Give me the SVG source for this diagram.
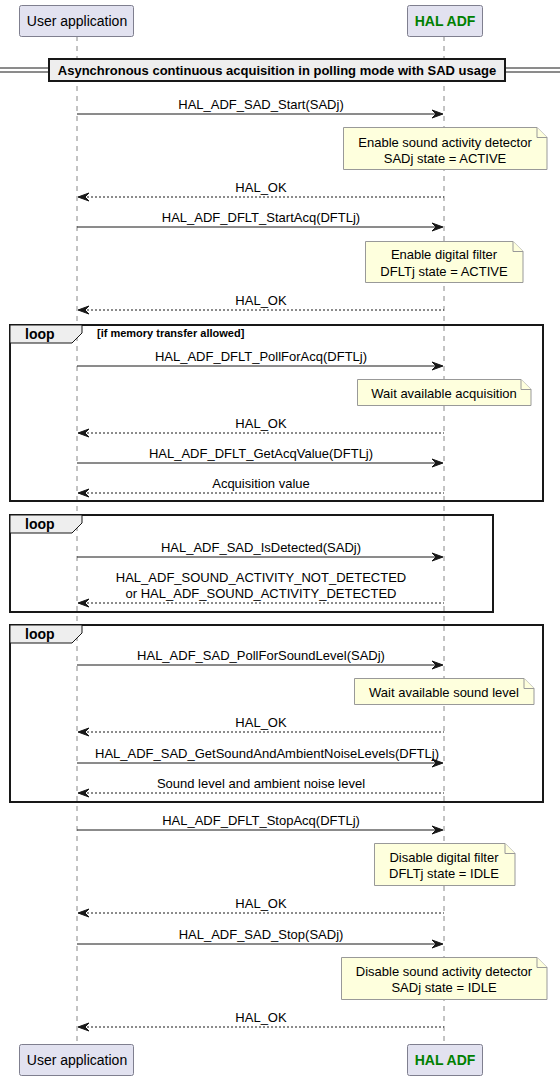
<svg xmlns="http://www.w3.org/2000/svg" width="560" height="1080" viewBox="0 0 560 1080">
<style>
text{font-family:"Liberation Sans",Arial,sans-serif;font-size:13px;fill:#000}
.c{text-anchor:middle}
.b{font-weight:bold}
.pt{font-size:14px}
.lp{font-size:14px;font-weight:bold}
.part{fill:#E2E2F0;stroke:#7F7F8F;stroke-width:1}
.life{stroke:#888;stroke-width:1;stroke-dasharray:5,5}
.msg{stroke:#181818;stroke-width:1;fill:none}
.ret{stroke:#181818;stroke-width:1;fill:none;stroke-dasharray:2,2}
.head{fill:#181818;stroke:#181818}
.note{fill:#FEFFDD;stroke:#999;stroke-width:1}
.loop{fill:none;stroke:#181818;stroke-width:2}
.tab{fill:#EEEEEE;stroke:#181818;stroke-width:1}
</style>
<rect width="560" height="1080" fill="#fff"/>
<g id="lifelines">
<line class="life" x1="77" y1="36" x2="77" y2="1044"/>
<line class="life" x1="444" y1="36" x2="444" y2="1044"/>
</g>
<g id="p-user-top"><rect class="part" x="19.5" y="5.5" width="114" height="31" rx="2"/><text class="c pt" x="77" y="26">User application</text></g>
<g id="p-hal-top"><rect class="part" x="407.5" y="5.5" width="75" height="31" rx="2"/><text class="c b pt" x="445" y="26" style="fill:#008000">HAL ADF</text></g>
<g id="p-user-bottom"><rect class="part" x="19.5" y="1044.5" width="114" height="31" rx="2"/><text class="c pt" x="77" y="1065">User application</text></g>
<g id="p-hal-bottom"><rect class="part" x="407.5" y="1044.5" width="75" height="31" rx="2"/><text class="c b pt" x="445" y="1065" style="fill:#008000">HAL ADF</text></g>
<g id="divider">
<line x1="0" y1="68" x2="560" y2="68" stroke="#181818"/>
<line x1="0" y1="72" x2="560" y2="72" stroke="#181818"/>
<rect x="49" y="59" width="456" height="22" fill="#EEEEEE" stroke="#181818" stroke-width="2"/>
<text class="c b" x="277" y="75">Asynchronous continuous acquisition in polling mode with SAD usage</text>
</g>
<g id="loop1">
<rect class="loop" x="10" y="325" width="533" height="176"/>
<path class="tab" d="M10,325 L82,325 L82,333 L72,343 L10,343 Z"/>
<text class="lp" x="25" y="339">loop</text>
<text class="b" x="97" y="337" style="font-size:11px">[if memory transfer allowed]</text>
</g>
<g id="loop2">
<rect class="loop" x="10" y="515" width="483" height="97"/>
<path class="tab" d="M10,515 L82,515 L82,523 L72,533 L10,533 Z"/>
<text class="lp" x="25" y="529">loop</text>
</g>
<g id="loop3">
<rect class="loop" x="10" y="625" width="533" height="177"/>
<path class="tab" d="M10,625 L82,625 L82,633 L72,643 L10,643 Z"/>
<text class="lp" x="25" y="639">loop</text>
</g>
<g id="notes">
<g id="note1"><path class="note" d="M343.5,127.5 L537,127.5 L547,137.5 L547,169.5 L343.5,169.5 Z"/><path class="note" d="M537,127.5 L537,137.5 L547,137.5"/><text class="c" x="445" y="147">Enable sound activity detector</text><text class="c" x="445" y="163">SADj state = ACTIVE</text></g>
<g id="note2"><path class="note" d="M365.5,241.5 L513,241.5 L523,251.5 L523,282.5 L365.5,282.5 Z"/><path class="note" d="M513,241.5 L513,251.5 L523,251.5"/><text class="c" x="444" y="259">Enable digital filter</text><text class="c" x="444" y="276">DFLTj state = ACTIVE</text></g>
<g id="note3"><path class="note" d="M357.5,379.5 L521,379.5 L531,389.5 L531,405.5 L357.5,405.5 Z"/><path class="note" d="M521,379.5 L521,389.5 L531,389.5"/><text class="c" x="444" y="398">Wait available acquisition</text></g>
<g id="note4"><path class="note" d="M354.5,678.5 L524,678.5 L534,688.5 L534,704.5 L354.5,704.5 Z"/><path class="note" d="M524,678.5 L524,688.5 L534,688.5"/><text class="c" x="444" y="697">Wait available sound level</text></g>
<g id="note5"><path class="note" d="M374.5,843.5 L505,843.5 L515,853.5 L515,885.5 L374.5,885.5 Z"/><path class="note" d="M505,843.5 L505,853.5 L515,853.5"/><text class="c" x="444" y="862">Disable digital filter</text><text class="c" x="444" y="878">DFLTj state = IDLE</text></g>
<g id="note6"><path class="note" d="M341.5,957.5 L537,957.5 L547,967.5 L547,999.5 L341.5,999.5 Z"/><path class="note" d="M537,957.5 L537,967.5 L547,967.5"/><text class="c" x="444" y="976">Disable sound activity detector</text><text class="c" x="444" y="992">SADj state = IDLE</text></g>
</g>
<g id="connectors">
<line class="msg" x1="77" y1="114" x2="442" y2="114"/><polygon class="head" points="432,110 443,114 432,118 436,114"/><text class="c" x="261" y="109">HAL_ADF_SAD_Start(SADj)</text>
<line class="ret" x1="79" y1="197" x2="444" y2="197"/><polygon class="head" points="89,193 78,197 89,201 85,197"/><text class="c" x="261" y="192">HAL_OK</text>
<line class="msg" x1="77" y1="227" x2="442" y2="227"/><polygon class="head" points="432,223 443,227 432,231 436,227"/><text class="c" x="261" y="222">HAL_ADF_DFLT_StartAcq(DFTLj)</text>
<line class="ret" x1="79" y1="310" x2="444" y2="310"/><polygon class="head" points="89,306 78,310 89,314 85,310"/><text class="c" x="261" y="305">HAL_OK</text>
<line class="msg" x1="77" y1="366" x2="442" y2="366"/><polygon class="head" points="432,362 443,366 432,370 436,366"/><text class="c" x="261" y="361">HAL_ADF_DFLT_PollForAcq(DFTLj)</text>
<line class="ret" x1="79" y1="433" x2="444" y2="433"/><polygon class="head" points="89,429 78,433 89,437 85,433"/><text class="c" x="261" y="428">HAL_OK</text>
<line class="msg" x1="77" y1="463" x2="442" y2="463"/><polygon class="head" points="432,459 443,463 432,467 436,463"/><text class="c" x="261" y="458">HAL_ADF_DFLT_GetAcqValue(DFTLj)</text>
<line class="ret" x1="79" y1="493" x2="444" y2="493"/><polygon class="head" points="89,489 78,493 89,497 85,493"/><text class="c" x="261" y="488">Acquisition value</text>
<line class="msg" x1="77" y1="557" x2="442" y2="557"/><polygon class="head" points="432,553 443,557 432,561 436,557"/><text class="c" x="261" y="552">HAL_ADF_SAD_IsDetected(SADj)</text>
<line class="ret" x1="79" y1="603" x2="444" y2="603"/><polygon class="head" points="89,599 78,603 89,607 85,603"/><text class="c" x="261" y="582">HAL_ADF_SOUND_ACTIVITY_NOT_DETECTED</text><text class="c" x="261" y="598">or HAL_ADF_SOUND_ACTIVITY_DETECTED</text>
<line class="msg" x1="77" y1="665" x2="442" y2="665"/><polygon class="head" points="432,661 443,665 432,669 436,665"/><text class="c" x="261" y="660">HAL_ADF_SAD_PollForSoundLevel(SADj)</text>
<line class="ret" x1="79" y1="732" x2="444" y2="732"/><polygon class="head" points="89,728 78,732 89,736 85,732"/><text class="c" x="261" y="727">HAL_OK</text>
<line class="msg" x1="77" y1="763" x2="442" y2="763"/><polygon class="head" points="432,759 443,763 432,767 436,763"/><text class="c" x="267" y="758">HAL_ADF_SAD_GetSoundAndAmbientNoiseLevels(DFTLj)</text>
<line class="ret" x1="79" y1="793" x2="444" y2="793"/><polygon class="head" points="89,789 78,793 89,797 85,793"/><text class="c" x="261" y="788">Sound level and ambient noise level</text>
<line class="msg" x1="77" y1="830" x2="442" y2="830"/><polygon class="head" points="432,826 443,830 432,834 436,830"/><text class="c" x="261" y="825">HAL_ADF_DFLT_StopAcq(DFTLj)</text>
<line class="ret" x1="79" y1="913" x2="444" y2="913"/><polygon class="head" points="89,909 78,913 89,917 85,913"/><text class="c" x="261" y="908">HAL_OK</text>
<line class="msg" x1="77" y1="944" x2="442" y2="944"/><polygon class="head" points="432,940 443,944 432,948 436,944"/><text class="c" x="261" y="939">HAL_ADF_SAD_Stop(SADj)</text>
<line class="ret" x1="79" y1="1027" x2="444" y2="1027"/><polygon class="head" points="89,1023 78,1027 89,1031 85,1027"/><text class="c" x="261" y="1022">HAL_OK</text>
</g>
</svg>
